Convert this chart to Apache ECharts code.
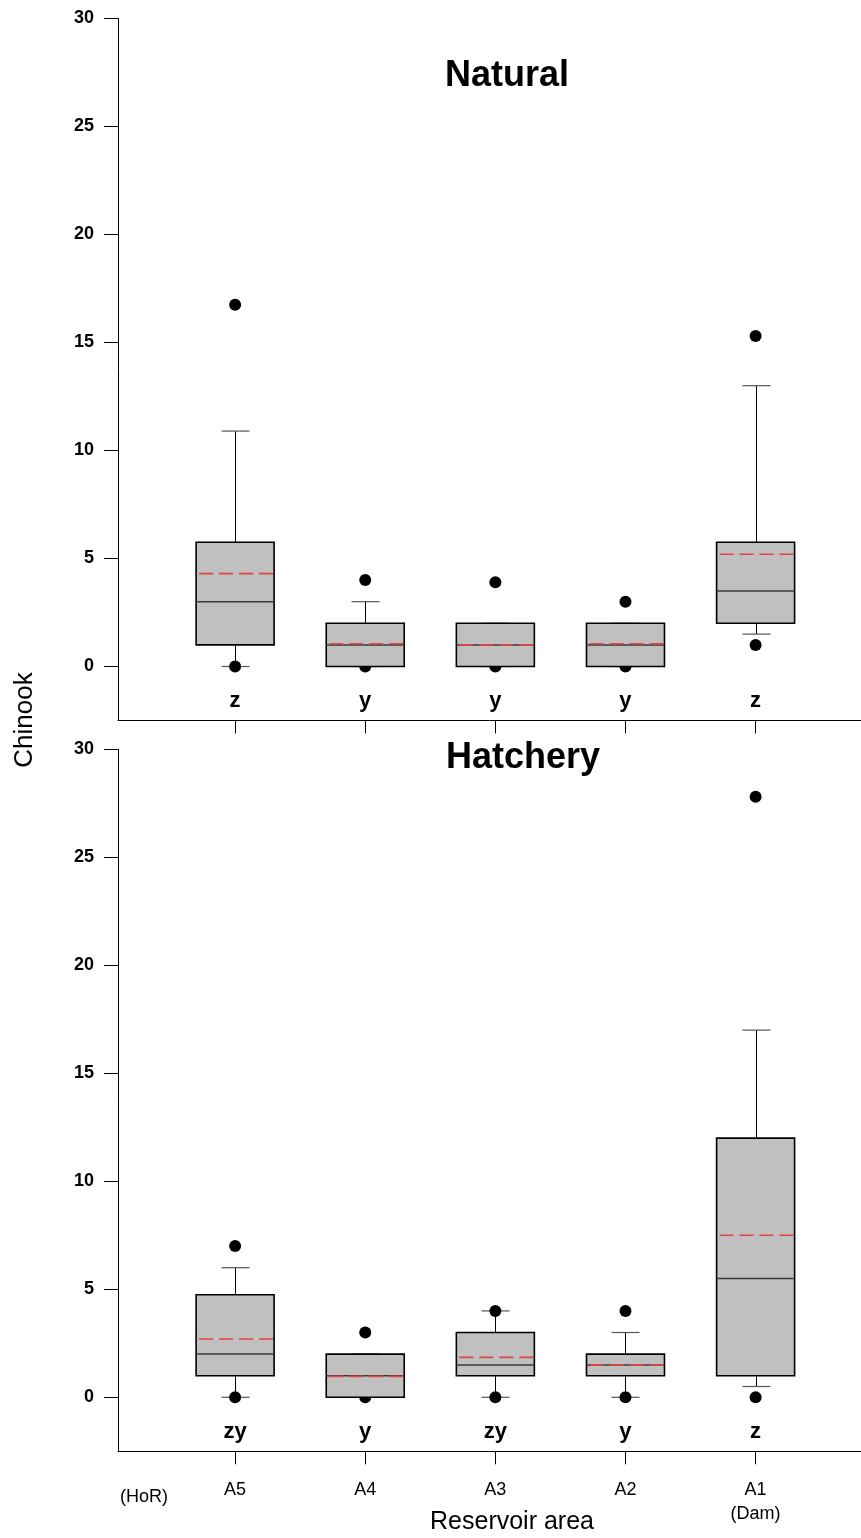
<!DOCTYPE html>
<html>
<head>
<meta charset="utf-8">
<script src="https://cdn.jsdelivr.net/npm/echarts@6/dist/echarts.min.js"></script>
<style>
html,body{margin:0;padding:0;background:#fff;}
#c{width:861px;height:1538px;}
</style>
</head>
<body>
<div id="c"></div>
<script>
// ---- data ----
const categories = ['A5', 'A4', 'A3', 'A2', 'A1'];
const categorySub = ['', '', '', '', '(Dam)'];
const xPos = [1, 2, 3, 4, 5];
const yTicks = [0, 5, 10, 15, 20, 25, 30];

// Natural
const natMin  = [0, 0, 0, 0, 1.5];
const natQ1   = [1, 0, 0, 0, 2];
const natMed  = [3, 1, 1, 1, 3.5];
const natQ3   = [5.75, 2, 2, 2, 5.75];
const natMax  = [10.9, 3, 2, 2, 13];
const natMean = [4.3, 1.05, 1.0, 1.05, 5.2];
const natOutliers = [[1, 0], [1, 16.75], [2, 0], [2, 4], [3, 0], [3, 3.9], [4, 0], [4, 3], [5, 1.0], [5, 15.3]];
const natLetters = ['z', 'y', 'y', 'y', 'z'];

// Hatchery
const hatMin  = [0, 0, 0, 0, 0.5];
const hatQ1   = [1, 0, 1, 1, 1];
const hatMed  = [2, 1, 1.5, 1.5, 5.5];
const hatQ3   = [4.75, 2, 3, 2, 12];
const hatMax  = [6, 2, 4, 3, 17];
const hatMean = [2.7, 0.97, 1.85, 1.5, 7.5];
const hatOutliers = [[1, 0], [1, 7], [2, 0], [2, 3], [3, 0], [3, 4], [4, 0], [4, 4], [5, 0], [5, 27.8]];
const hatLetters = ['zy', 'y', 'zy', 'y', 'z'];

const letterLevel = -1.6;
const FONT = "'Liberation Sans', Arial, Helvetica, sans-serif";

function rows(mn, q1, md, q3, mx, mean) {
  return xPos.map((x, i) => [x, mn[i], q1[i], md[i], q3[i], mx[i], mean[i]]);
}
const natRows = rows(natMin, natQ1, natMed, natQ3, natMax, natMean);
const hatRows = rows(hatMin, hatQ1, hatMed, hatQ3, hatMax, hatMean);

const BOX_HALF = 39, CAP_HALF = 14;

function renderWhiskers(params, api) {
  const x = api.value(0);
  const pMin = api.coord([x, api.value(1)]);
  const pQ1 = api.coord([x, api.value(2)]);
  const pQ3 = api.coord([x, api.value(4)]);
  const pMax = api.coord([x, api.value(5)]);
  const cx = Math.round(pMin[0]) + 0.5;
  const st = { stroke: '#000', lineWidth: 1 };
  const capSt = { stroke: '#555', lineWidth: 1.2 };
  return {
    type: 'group',
    children: [
      { type: 'line', shape: { x1: cx, y1: pQ3[1], x2: cx, y2: pMax[1] }, style: st },
      { type: 'line', shape: { x1: cx, y1: pQ1[1], x2: cx, y2: pMin[1] }, style: st },
      { type: 'line', shape: { x1: cx - CAP_HALF, y1: pMax[1], x2: cx + CAP_HALF, y2: pMax[1] }, style: capSt },
      { type: 'line', shape: { x1: cx - CAP_HALF, y1: pMin[1], x2: cx + CAP_HALF, y2: pMin[1] }, style: capSt }
    ]
  };
}

function renderBox(params, api) {
  const x = api.value(0);
  const pQ1 = api.coord([x, api.value(2)]);
  const pMed = api.coord([x, api.value(3)]);
  const pQ3 = api.coord([x, api.value(4)]);
  const pMean = api.coord([x, api.value(6)]);
  const cx = pQ1[0];
  return {
    type: 'group',
    children: [
      { type: 'rect', shape: { x: cx - BOX_HALF, y: pQ3[1], width: BOX_HALF * 2, height: pQ1[1] - pQ3[1] },
        style: { fill: '#c0c0c0', stroke: '#000', lineWidth: 1.6 } },
      { type: 'line', shape: { x1: cx - BOX_HALF, y1: pMed[1], x2: cx + BOX_HALF, y2: pMed[1] },
        style: { stroke: '#3a3a3a', lineWidth: 1.5 } },
      { type: 'line', shape: { x1: cx - BOX_HALF + 3, y1: pMean[1], x2: cx + BOX_HALF, y2: pMean[1] },
        style: { stroke: '#e04545', lineWidth: 1.6, lineDash: [14, 6] } }
    ]
  };
}

function xAxisCfg(gridIndex, showLabels) {
  return {
    type: 'value', gridIndex: gridIndex, min: 0.1, max: 5.81,
    axisLine: { show: true, onZero: false, lineStyle: { color: '#000', width: 1 } },
    axisTick: { show: true, length: 13, customValues: xPos, lineStyle: { color: '#000' } },
    splitLine: { show: false },
    axisLabel: {
      show: showLabels,
      customValues: showLabels ? [0.3].concat(xPos) : xPos,
      margin: 27,
      color: '#000',
      fontFamily: FONT,
      fontSize: 18,
      lineHeight: 24,
      formatter: function (v) {
        if (Math.abs(v - 0.3) < 0.01) return '{h|(HoR)}';
        const i = xPos.indexOf(Math.round(v));
        if (i < 0) return '';
        return categorySub[i] ? categories[i] + '\n' + categorySub[i] : categories[i];
      },
      rich: { h: { fontSize: 18, fontFamily: FONT, color: '#000', padding: [14, 0, 0, 0] } }
    }
  };
}
function yAxisCfg(gridIndex) {
  return {
    type: 'value', gridIndex: gridIndex, min: -2.5, max: 30,
    axisLine: { show: true, onZero: false, lineStyle: { color: '#000', width: 1 } },
    axisTick: { show: true, length: 14, customValues: yTicks, lineStyle: { color: '#000' } },
    splitLine: { show: false },
    axisLabel: { customValues: yTicks, margin: 24, color: '#000', fontFamily: FONT, fontSize: 18, fontWeight: 'bold' }
  };
}

function panelSeries(idx, rowsData, outliers, letters) {
  return [
    { type: 'custom', xAxisIndex: idx, yAxisIndex: idx, z: 1, renderItem: renderWhiskers, data: rowsData, silent: true },
    { type: 'scatter', xAxisIndex: idx, yAxisIndex: idx, z: 2, symbol: 'circle', symbolSize: 12,
      itemStyle: { color: '#000', opacity: 1 }, data: outliers, silent: true },
    { type: 'custom', xAxisIndex: idx, yAxisIndex: idx, z: 3, renderItem: renderBox, data: rowsData, silent: true },
    { type: 'scatter', xAxisIndex: idx, yAxisIndex: idx, z: 4, symbolSize: 0, silent: true,
      itemStyle: { opacity: 1 },
      data: xPos.map((x, i) => ({ value: [x, letterLevel], name: letters[i] })),
      label: { show: true, position: 'inside', formatter: '{b}', color: '#000', fontFamily: FONT,
        fontSize: 22, fontWeight: 'bold' } }
  ];
}

const chart = echarts.init(document.getElementById('c'), null, { renderer: 'canvas' });
chart.setOption({
  animation: false,
  backgroundColor: '#fff',
  grid: [
    { left: 118, top: 18.5, right: 0, height: 702 },
    { left: 118, top: 749.3, right: 0, height: 702 }
  ],
  xAxis: [xAxisCfg(0, false), xAxisCfg(1, true)],
  yAxis: [yAxisCfg(0), yAxisCfg(1)],
  series: [].concat(
    panelSeries(0, natRows, natOutliers, natLetters),
    panelSeries(1, hatRows, hatOutliers, hatLetters)
  ),
  graphic: [
    { type: 'text', x: 507, y: 76, style: { text: 'Natural', font: 'bold 36px ' + FONT, fill: '#000', align: 'center', verticalAlign: 'middle' } },
    { type: 'text', x: 523, y: 758, style: { text: 'Hatchery', font: 'bold 36px ' + FONT, fill: '#000', align: 'center', verticalAlign: 'middle' } },
    { type: 'text', x: 25, y: 720, rotation: Math.PI / 2, style: { text: 'Chinook', font: '26px ' + FONT, fill: '#000', align: 'center', verticalAlign: 'middle' } },
    { type: 'text', x: 512, y: 1522, style: { text: 'Reservoir area', font: '25px ' + FONT, fill: '#000', align: 'center', verticalAlign: 'middle' } }
  ]
});
</script>
</body>
</html>
